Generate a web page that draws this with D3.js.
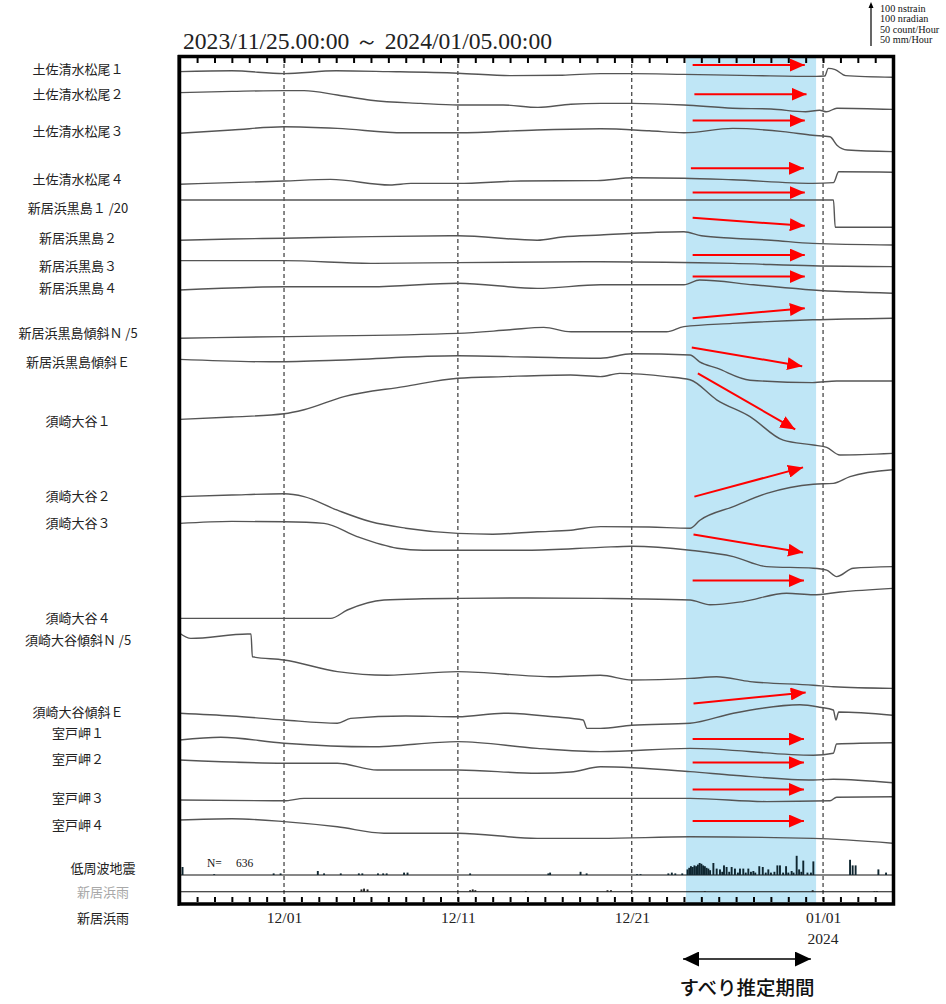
<!DOCTYPE html>
<html><head><meta charset="utf-8">
<script src="https://cdn.jsdelivr.net/npm/d3@7"></script>
<style>body{margin:0;background:#fff}svg{display:block}</style>
</head><body>
<svg id="c" width="946" height="1004"></svg>
<script>
// ---------------- DATA ----------------
const startDate = "2023-11-25T00:00:00Z";
const endDate = "2024-01-05T00:00:00Z";
const titleText = "2023/11/25.00:00 ～ 2024/01/05.00:00";
const dateTickLabels = ["12/01", "12/11", "12/21", "01/01"];
const dateTickDays = [6, 16, 26, 37];
const scaleLegend = ["100 nstrain", "100 nradian", "50 count/Hour", "50 mm/Hour"];

const stationLabels = ["土佐清水松尾１","土佐清水松尾２","土佐清水松尾３","土佐清水松尾４","新居浜黒島１ /20",
  "新居浜黒島２","新居浜黒島３","新居浜黒島４","新居浜黒島傾斜Ｎ /5","新居浜黒島傾斜Ｅ","須崎大谷１","須崎大谷２",
  "須崎大谷３","須崎大谷４","須崎大谷傾斜Ｎ /5","須崎大谷傾斜Ｅ","室戸岬１","室戸岬２","室戸岬３","室戸岬４"];
// label levels (nstrain units from the top of the panel)
const labelLevels = [35,97.5,190,310,382.5,457.5,527.5,582.5,695,767.5,915,1102.5,1170,1407.5,1462.5,1642.5,1695,1760,1857.5,1925];
const bottomLabels = ["低周波地震","新居浜雨","新居浜雨"];
const bottomLabelLevels = [2032.5, 2092.5, 2157.5];

// trace offsets (nstrain, stacked from top)
const traceOffsets = [42.5,95,192.5,320,362.5,460,515,582.5,705,760,910,1105,1170,1407.5,1447.5,1647.5,1712.5,1762.5,1862.5,1912.5];

// each trace: [day since 11/25, change in nstrain (up = +)]
const t01 = [[0,1],[3,3],[6,-4],[9,3],[12,1],[16,-3],[19,-9],[22,-8],[24.2,-4],[26,-4],[29,-6],[33,-9],[36.6,-11],[37.1,-10],[37.3,9],[37.7,6],[38.3,-9],[41,-13]];
const t02 = [[0,1],[3,4],[6,6],[7.15,6],[9.07,-5],[11,-18],[13.85,-26],[16,-30],[18.6,-30],[20.6,-36],[22.5,-28],[24.2,-26],[26,-26],[29,-30],[31.8,-38],[34,-40],[36,-47],[36.8,-43],[37.2,-47],[37.8,-38],[41,-41]];
const t03 = [[0,-3],[3,5],[6,13],[9.07,9],[12.9,-2],[16,-2],[20.56,5],[24.2,8],[27,3],[29,-2],[31.8,9],[34.7,1],[36.4,-8],[37.4,-12],[37.8,-33],[38.4,-45],[41,-49]];
const t04 = [[0,-3],[6,5],[8.68,9],[12.1,-5],[13.3,-1],[16,-1],[19.6,5],[24,6],[26.1,13],[29,12],[31.8,8],[36.4,-1],[37.6,1],[37.9,28],[41,27]];
const t05 = [[0,0],[12,0],[24,0],[37.6,0],[37.7,-68],[41,-68]];
const t06 = [[0,-3],[3,0],[6,2],[11,6],[16,8],[20.56,-3],[22,5],[24.2,10],[29,18],[30,8],[31.8,2],[34,-3],[36.4,-11],[41,-15]];
const t07 = [[0,1],[6,1],[11,-6],[16,-4],[24.2,-2],[31.8,-6],[36.4,-12],[41,-14]];
const t08 = [[0,-5],[6,3],[11,3],[16,12],[20.56,-1],[24.2,8],[29,8],[29.9,20],[33,8],[36.4,-5],[41,-13]];
const t09 = [[0,-3],[6,1],[16,9],[19,18],[20.94,24],[22.5,13],[24.2,13],[28,13],[29,26],[31.8,34],[36.4,43],[41,47]];
const t10 = [[0,-1],[5.2,-7],[9,-3],[16,8],[20,5],[24.2,2],[26,13],[29.35,10],[29.9,-7],[30.9,-23],[32.8,-53],[36.4,-59],[37.78,-55],[41,-55]];
const t11 = [[0,-1],[3,5],[6,13],[7.15,23],[9.45,56],[12.9,81],[16,102],[18.64,106],[22.48,110],[24.2,106],[25.3,114],[28,106],[29.35,98],[30.88,48],[32.8,6],[34.71,-53],[36.44,-65],[37.21,-71],[37.97,-90],[41,-86]];
const t12 = [[0,1],[3,5],[6,8],[7.15,1],[9.07,-33],[11,-62],[13,-78],[16,-91],[18,-93],[20.56,-87],[22.5,-83],[24.2,-74],[27,-75],[29.35,-78],[29.92,-58],[31.84,-24],[33.76,9],[36.44,32],[37.59,34],[38.55,51],[41,68]];
const t13 = [[0,-1],[3,4],[6,3],[8.3,-1],[10.2,-34],[12.51,-63],[14,-68],[16,-68],[20,-68],[24.2,-61],[26,-58],[29.35,-68],[31.84,-84],[33.76,-109],[36.44,-113],[37.21,-118],[37.78,-134],[38.74,-113],[41,-109]];
const t14 = [[0,-1],[6,-1],[8.68,-1],[9.64,20],[11.75,45],[14,48],[16,49],[20,50],[24.2,49],[26,48],[29.35,45],[30.5,33],[32.41,41],[34.9,62],[36.44,58],[38,65],[41,74]];
const t15 = [[0,2],[0.64,-11],[3.9,0],[4.1,0],[4.18,-57],[6,-65],[9.07,-94],[11.94,-103],[16,-94],[21.52,-107],[24.2,-103],[26,-115],[29.35,-111],[30.88,-107],[32.8,-119],[36.44,-128],[37.59,-132],[41,-136]];
const t16 = [[0,2],[3,-5],[6,-15],[9.07,-23],[9.83,-11],[13,-5],[16,-7],[18.64,2],[21.52,-7],[23.2,-15],[23.43,-36],[24.2,-36],[26,-28],[29.35,-23],[31.84,2],[35.67,23],[36.82,17],[37.59,10],[37.74,-15],[37.9,5],[41,-3]];
const t17 = [[0,0],[2.36,7],[6,-8],[11,-17],[16,-4],[20.56,-21],[24.2,-29],[29.35,-21],[36.44,-38],[37.59,-33],[37.78,-10],[41,-7]];
const t18 = [[0,0],[6,-8],[9.07,-8],[11.36,-25],[16,-25],[20.56,-33],[22.5,-30],[24.2,-17],[29.35,-29],[31.84,-38],[36.44,-50],[37.59,-48],[41,-57]];
const t19 = [[0,0],[6,-2],[7.15,4],[16,4],[24.2,4],[29.35,4],[33.76,-4],[37.4,-2],[37.78,7],[41,8]];
const t20 = [[0,0],[3,3],[6,-4],[9.07,-17],[11.75,-33],[16,-33],[20.56,-46],[24.2,-46],[29.35,-42],[36.44,-46],[41,-58]];
const traces = [t01,t02,t03,t04,t05,t06,t07,t08,t09,t10,t11,t12,t13,t14,t15,t16,t17,t18,t19,t20];

// low-frequency earthquakes [day, count/hour]
const quakeBins = [[0.16,10],[1.98,1],[5.4,2],[5.8,2],[7.94,5],[8.3,2],[9.26,2],[10.3,2],[10.5,2],[11.4,2],[11.7,2],[11.9,2],[12.9,3],[13.1,3],[16.7,2],[21.2,2],[21.3,3],[23.05,4],[23.4,2],[26.3,1],[26.5,1],[28.1,2],[28.3,3],[28.5,2],[28.9,2],
 [29.2,7],[29.3,9],[29.4,11],[29.5,10],[29.6,12],[29.7,11],[29.8,13],[29.9,15],[30.0,14],[30.1,12],[30.2,11],[30.3,9],[30.4,8],[30.5,6],[30.69,15],[30.88,8],[31.07,7],[31.2,4],[31.3,12],[31.45,10],[31.6,4],[31.74,10],[31.93,8],[32.1,3],[32.22,8],[32.41,8],[32.55,3],[32.7,8],[32.85,4],[32.99,5],[33.1,3],[33.33,11],[33.53,10],[33.7,3],[33.85,7],[34.0,3],[34.2,4],[34.37,12],[34.52,12],[34.7,3],[34.87,11],[35.0,3],[35.19,5],[35.3,3],[35.48,24],[35.62,7],[35.75,4],[35.86,18],[36.1,3],[36.3,3],[36.44,17],
 [38.55,19],[38.7,12],[38.87,12],[40.18,7],[40.62,3]];
const quakeTotal = 636;
// rain at Niihama [day, mm/hour]
const rainBins = [[10.45,3],[10.6,4],[10.8,3],[16.7,2],[16.85,3],[17.0,2],[19.9,1],[24.6,2],[24.8,2],[30.2,1],[36.4,2],[39.95,1],[40.1,1]];
const panelLevels = [2050, 2092]; // baselines of quake and rain rows

// estimated slip period & red arrows
const slipPeriod = [29.12, 36.6];
const slipArrowDays = [28.95, 36.3];
const slipLabel = "すべり推定期間";
const arrowFromDay = [29.5,29.6,29.5,29.4,29.5,29.5,29.5,29.5,29.5,29.45,29.8,29.6,29.55,29.5,29.55,29.5,29.5,29.5,29.5];
const arrowToDay   = [35.95,36.05,35.95,35.9,35.95,35.95,35.95,35.95,35.95,35.8,35.4,35.85,35.85,35.9,36.0,35.9,35.9,35.9,35.9];
const arrowFromLevel = [25,98,164,283,344,407,500,554,658,731,796,1104,1199,1314,1621,1710,1769,1836,1915];
const arrowToLevel   = [25,98,164,283,344,427,500,554,633,778,936,1031,1244,1314,1594,1710,1769,1836,1915];

// ---------------- DRAW ----------------
const svg = d3.select("#c");
const t0 = new Date(startDate), t1 = new Date(endDate);
const dayDate = d => new Date(t0.getTime() + d * 86400000);
const x = d3.scaleUtc().domain([t0, t1]).range([179.7, 892.6]);
const y = d3.scaleLinear().domain([0, 2125]).range([55, 905]);
const countH = d3.scaleLinear().domain([0, 50]).range([0, y(100) - y(0)]);
const yTop = 57, yBot = 903;
const serif = "'Liberation Serif','Times New Roman',serif";
const jp = "'Noto Sans CJK JP','Noto Sans',sans-serif";

// band
svg.append("rect").attr("x", x(dayDate(slipPeriod[0]))).attr("y", yTop)
  .attr("width", x(dayDate(slipPeriod[1])) - x(dayDate(slipPeriod[0]))).attr("height", yBot - yTop)
  .attr("fill", "#bfe6f6");

// dashed lines
svg.append("g").selectAll("line").data(dateTickDays).join("line")
  .attr("x1", d => x(dayDate(d))).attr("x2", d => x(dayDate(d)))
  .attr("y1", yTop).attr("y2", yBot)
  .attr("stroke", "#111").attr("stroke-width", 1).attr("stroke-dasharray", "4,3");

// panel baselines
svg.append("g").selectAll("line").data(panelLevels).join("line")
  .attr("x1", 180).attr("x2", 893).attr("y1", d => y(d)).attr("y2", d => y(d))
  .attr("stroke", "#111").attr("stroke-width", 1.1);

// traces
const line = d3.line().curve(d3.curveMonotoneX);
svg.append("g").selectAll("path").data(traces).join("path")
  .attr("d", (tr, i) => line(tr.map(p => [x(dayDate(p[0])), y(traceOffsets[i] - p[1])])))
  .attr("fill", "none").attr("stroke", "#555").attr("stroke-width", 1.4).attr("stroke-linejoin", "round");

// quake bars
svg.append("g").selectAll("rect").data(quakeBins).join("rect")
  .attr("x", d => x(dayDate(d[0])) - 0.9).attr("width", 1.9)
  .attr("y", d => y(panelLevels[0]) - countH(d[1])).attr("height", d => countH(d[1]))
  .attr("fill", "#0f2630");
// rain bars
svg.append("g").selectAll("rect").data(rainBins).join("rect")
  .attr("x", d => x(dayDate(d[0])) - 0.9).attr("width", 1.9)
  .attr("y", d => y(panelLevels[1]) - countH(d[1])).attr("height", d => countH(d[1]))
  .attr("fill", "#222");

svg.append("text").attr("x", 207).attr("y", 867).attr("font-family", serif).attr("font-size", 11.5).attr("fill", "#111").text("N=");
svg.append("text").attr("x", 236).attr("y", 867).attr("font-family", serif).attr("font-size", 11.5).attr("fill", "#111").text(quakeTotal);

// red arrows
const defs = svg.append("defs");
defs.append("marker").attr("id", "rh").attr("markerUnits", "userSpaceOnUse")
  .attr("markerWidth", 16).attr("markerHeight", 13).attr("refX", 15).attr("refY", 6.5).attr("orient", "auto")
  .append("path").attr("d", "M0,0 L15,6.5 L0,13 Z").attr("fill", "#ff0000");
defs.append("marker").attr("id", "bh").attr("markerUnits", "userSpaceOnUse")
  .attr("markerWidth", 17).attr("markerHeight", 15).attr("refX", 16).attr("refY", 7.5).attr("orient", "auto-start-reverse")
  .append("path").attr("d", "M0,0 L16,7.5 L0,15 Z").attr("fill", "#000");

svg.append("g").selectAll("line").data(arrowFromDay).join("line")
  .attr("x1", (d, i) => x(dayDate(d))).attr("y1", (d, i) => y(arrowFromLevel[i]))
  .attr("x2", (d, i) => x(dayDate(arrowToDay[i]))).attr("y2", (d, i) => y(arrowToLevel[i]))
  .attr("stroke", "#ff0000").attr("stroke-width", 2).attr("marker-end", "url(#rh)");

// frame
svg.append("rect").attr("x", 179.5).attr("y", 56.5).attr("width", 714).attr("height", 847.5)
  .attr("fill", "none").attr("stroke", "#000").attr("stroke-width", 3.5);
svg.append("line").attr("x1", 178.5).attr("x2", 178.5).attr("y1", 55).attr("y2", 906).attr("stroke", "#000").attr("stroke-width", 2);

// day ticks
const allDays = d3.utcDay.range(t0, t1).slice(1);
const tTop = svg.append("g").attr("transform", `translate(0,${58})`)
  .call(d3.axisBottom(x).tickValues(allDays).tickSize(5).tickFormat(""));
const tBot = svg.append("g").attr("transform", `translate(0,${902})`)
  .call(d3.axisTop(x).tickValues(allDays).tickSize(5).tickFormat(""));
[tTop, tBot].forEach(g => { g.select(".domain").remove(); g.selectAll("line").attr("stroke", "#000").attr("stroke-width", 2); });

// date labels
const lab = svg.append("g").attr("transform", "translate(0,905)")
  .call(d3.axisBottom(x).tickValues(dateTickDays.map(dayDate)).tickSize(0).tickPadding(0)
    .tickFormat((d, i) => dateTickLabels[i]));
lab.select(".domain").remove();
lab.selectAll("text").attr("font-family", serif).attr("font-size", 15.5).attr("fill", "#222").attr("dy", "18");
svg.append("text").attr("x", x(dayDate(37))).attr("y", 944).attr("text-anchor", "middle")
  .attr("font-family", serif).attr("font-size", 15.5).attr("fill", "#222").text("2024");

// title
svg.append("text").attr("x", 183).attr("y", 49).attr("font-family", serif).attr("font-size", 23)
  .attr("fill", "#222").attr("textLength", 369).attr("lengthAdjust", "spacingAndGlyphs").text(titleText);

// scale legend
svg.append("line").attr("x1", 871).attr("x2", 871).attr("y1", 46).attr("y2", 4)
  .attr("stroke", "#000").attr("stroke-width", 1.2);
svg.append("path").attr("d", "M868.5,8 L871,2 L873.5,8 Z").attr("fill", "#000");
svg.append("g").selectAll("text").data(scaleLegend).join("text")
  .attr("x", 880).attr("y", (d, i) => 12 + i * 10.4).attr("font-family", serif).attr("font-size", 10.2)
  .attr("fill", "#111").text(d => d);

// station labels
svg.append("g").selectAll("text").data(stationLabels).join("text")
  .attr("x", 78).attr("y", (d, i) => y(labelLevels[i])).attr("dy", "0.35em")
  .attr("text-anchor", "middle").attr("font-family", jp).attr("font-size", 13).attr("fill", "#222").text(d => d);
svg.append("g").selectAll("text").data(bottomLabels).join("text")
  .attr("x", 103).attr("y", (d, i) => y(bottomLabelLevels[i])).attr("dy", "0.35em")
  .attr("text-anchor", "middle").attr("font-family", jp).attr("font-size", 13)
  .attr("fill", (d, i) => i === 1 ? "#a8a8a8" : "#222").text(d => d);

// slip period double arrow + label
svg.append("line").attr("x1", x(dayDate(slipArrowDays[0]))).attr("x2", x(dayDate(slipArrowDays[1])))
  .attr("y1", 959).attr("y2", 959).attr("stroke", "#000").attr("stroke-width", 1.5)
  .attr("marker-start", "url(#bh)").attr("marker-end", "url(#bh)");
svg.append("text").attr("x", 747).attr("y", 995).attr("text-anchor", "middle")
  .attr("font-family", jp).attr("font-size", 19.5).attr("font-weight", 500).attr("fill", "#111").text(slipLabel);
</script>
</body></html>
